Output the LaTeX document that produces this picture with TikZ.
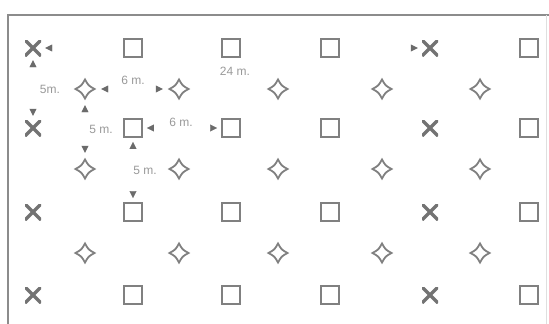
\documentclass[tikz,border=0pt]{standalone}
\usepackage{fontspec}
\setmainfont{Liberation Sans}
\usetikzlibrary{arrows.meta,decorations.markings}
\definecolor{symcol}{gray}{0.50}
\definecolor{xcol}{gray}{0.45}
\definecolor{labcol}{gray}{0.60}
\definecolor{tipcol}{gray}{0.42}
\definecolor{framecol}{gray}{0.55}
\newcommand\starshape{%
  \draw[symcol, line width=1.8pt, line join=miter, shift={(path picture bounding box.center)}]
    (9.5pt,0pt) .. controls (3.4pt,3.4pt) .. (0pt,9.5pt)
    .. controls (-3.4pt,3.4pt) .. (-9.5pt,0pt)
    .. controls (-3.4pt,-3.4pt) .. (0pt,-9.5pt)
    .. controls (3.4pt,-3.4pt) .. cycle;}
\begin{document}
\begin{tikzpicture}[x=1pt,y=-1pt,
  sqbox/.style={draw=symcol, line width=1.9pt, minimum size=18pt, inner sep=0pt},
  xbox/.style={minimum width=16pt, minimum height=16pt, inner sep=0pt,
    path picture={\draw[xcol, line width=3.2pt]
      (path picture bounding box.north west) -- (path picture bounding box.south east)
      (path picture bounding box.north east) -- (path picture bounding box.south west);}},
  starbox/.style={circle, minimum size=24pt, inner sep=0pt, path picture={\starshape}},
  lab/.style={text=labcol, font=\fontsize{12}{14}\selectfont, inner sep=1pt},
  dimtip/.style={postaction={decorate}, decoration={markings,
    mark=at position 4pt with {\arrowreversed[tipcol]{Triangle[length=7pt,width=7pt]}},
    mark=at position -4pt with {\arrow[tipcol]{Triangle[length=7pt,width=7pt]}}}}
]
\useasboundingbox (0,0) rectangle (549,324);
% frame
\draw[framecol, line width=1.8pt] (8,324) -- (8,15) -- (549,15);
\draw[gray!25, line width=0.8pt] (546,15) -- (546,324);

% rows of X and squares
\foreach \r/\y in {1/48,2/128,3/212,4/295}{
  \node[xbox] (x\r a) at (33,\y) {};
  \node[sqbox] (q\r b) at (133,\y) {};
  \node[sqbox] (q\r c) at (231,\y) {};
  \node[sqbox] (q\r d) at (330,\y) {};
  \node[xbox] (x\r e) at (430,\y) {};
  \node[sqbox] (q\r f) at (529,\y) {};
}
% rows of stars
\foreach \r/\y in {1/89,2/169,3/253}{
  \foreach \c/\x in {a/85,b/179,c/278,d/382,e/480}{
    \node[starbox] (s\r\c) at (\x,\y) {};
  }
}

% dimensions
\path[dimtip] (x1a) -- (x1e);
\path[dimtip] (x1a) -- (x2a);
\path[dimtip] (s1a) -- (s1b);
\path[dimtip] (s1a) -- (s2a);
\path[dimtip] (q2b) -- (q2c);
\path[dimtip] (q2b) -- (q3b);

% labels
\node[lab] (l24) at (235,71) {24 m.};
\node[lab] (l5a) at (50,89) {5m.};
\node[lab] (l6a) at (133,80) {6 m.};
\node[lab] (l5b) at (101,129) {5 m.};
\node[lab] (l6b) at (181,122) {6 m.};
\node[lab] (l5c) at (145,170) {5 m.};
\end{tikzpicture}
\end{document}
